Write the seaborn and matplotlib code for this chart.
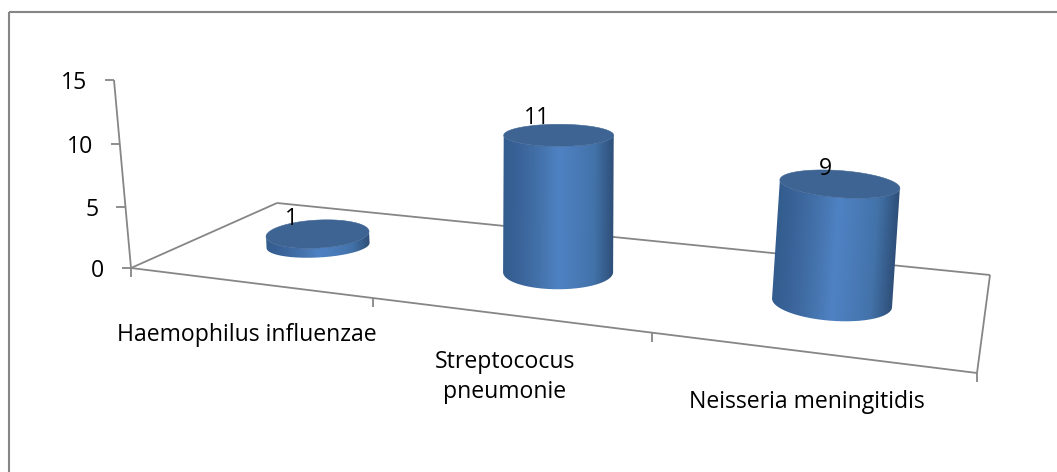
import numpy as np
import pandas as pd
import matplotlib
matplotlib.use("Agg")
import matplotlib.pyplot as plt
from matplotlib.path import Path
from matplotlib.patches import Polygon, PathPatch
import seaborn as sns

categories = ["Haemophilus influenzae", "Streptococus\npneumonie", "Neisseria meningitidis"]
values = [1, 11, 9]
y_ticks = [0, 5, 10, 15]

W, H_PX = 1057, 472
LINE = "#868686"
CAP = "#3e6493"
FONT_SIZE = 16.6
FLOOR = {"FL": (131, 268), "FR": (977, 373), "BR": (990, 275), "BL": (277, 203)}
AXIS_TOP = (114, 80)
VANISH = (537, 4756)
BAR_V = 0.49
ELLIPSE_A = [51.5, 55, 60]
ELLIPSE_TOP_B = [14, 11, 13.5]
ELLIPSE_BOT_B = [12, 17, 18]
ELLIPSE_TILT = [-0.05, 0, 0.07]
TEXT_DY = 3
LABEL_OFFSET = [(-26, -18), (-22, -20), (-14, -18)]
CAT_LABEL_XY = [(246.5, 335), (505, 377), (807, 402)]

sns.set_theme(style="white")
plt.rcParams["font.family"] = ["Open Sans", "DejaVu Sans"]

fig = plt.figure(figsize=(W / 100, H_PX / 100), dpi=100, facecolor="white")

# Hidden seaborn chart: its category and value scales feed the 3D projection.
scale_ax = fig.add_axes([0, 0, 1, 1])
df = pd.DataFrame({"category": categories, "value": values})
sns.barplot(data=df, x="category", y="value", ax=scale_ax)
scale_ax.set_xlim(-0.5, len(categories) - 0.5)
scale_ax.set_ylim(y_ticks[0], y_ticks[-1])
scale_ax.set_visible(False)
to_unit = scale_ax.transLimits

ax = fig.add_axes([0, 0, 1, 1])
ax.set_xlim(0, W)
ax.set_ylim(H_PX, 0)
ax.axis("off")


def homography(unit_pts, px_pts):
    A, b = [], []
    for (u, v), (x, y) in zip(unit_pts, px_pts):
        A.append([u, v, 1, 0, 0, 0, -u * x, -v * x])
        A.append([0, 0, 0, u, v, 1, -u * y, -v * y])
        b += [x, y]
    return np.append(np.linalg.solve(np.array(A, float), np.array(b, float)), 1).reshape(3, 3)


H = homography([(0, 0), (1, 0), (1, 1), (0, 1)],
               [FLOOR["FL"], FLOOR["FR"], FLOOR["BR"], FLOOR["BL"]])
s = (AXIS_TOP[1] - FLOOR["FL"][1]) / (VANISH[1] - AXIS_TOP[1])
P = np.column_stack([H[:, 0], H[:, 1], s * np.array([VANISH[0], VANISH[1], 1.0]), H[:, 2]])


def project(u, v, z):
    q = P @ np.array([u, v, z, 1.0])
    return q[:2] / q[2]


def seg(p, q, lw=1.3, z=1):
    ax.plot([p[0], q[0]], [p[1], q[1]], color=LINE, lw=lw, solid_capstyle="butt", zorder=z)


# outer frame: only the top and left edges fall inside the picture
seg((9, 12), (W, 12), lw=1.5, z=0)
seg((9, 12), (9, H_PX), lw=1.5, z=0)

# floor outline and value axis
corners = [project(*c) for c in [(0, 0, 0), (1, 0, 0), (1, 1, 0), (0, 1, 0), (0, 0, 0)]]
for a, b in zip(corners[:-1], corners[1:]):
    seg(a, b)
seg(project(0, 0, 0), project(0, 0, 1))

for t in y_ticks:
    z = to_unit.transform((0, t))[1]
    p = project(0, 0, z)
    seg(p, (p[0] - 9, p[1]))
    ax.text(p[0] - 27, p[1] + TEXT_DY, str(t), ha="right", va="center", fontsize=FONT_SIZE, color="black")

for k in range(len(categories) + 1):
    p = project(k / len(categories), 0, 0)
    seg(p, (p[0], p[1] + 9))

for label, (x, y) in zip(categories, CAT_LABEL_XY):
    ax.text(x, y, label, ha="center", va="center", fontsize=FONT_SIZE, color="black",
            linespacing=1.35)

# cylinders, one per seaborn bar
cmap = sns.blend_palette(["#335d8e", "#3b659b", "#4472ab", "#4f82c3", "#4a7bb8", "#4272a8", "#2f507a"],
                         as_cmap=True)
theta = np.linspace(0, np.pi, 121)
full = np.linspace(0, 2 * np.pi, 181)


def ellipse(c, a, b, tilt, th):
    return np.column_stack([c[0] + a * np.cos(th), c[1] + a * tilt * np.cos(th) + b * np.sin(th)])


for i, bar in enumerate(scale_ax.patches):
    cx = bar.get_x() + bar.get_width() / 2
    u0, z_top = to_unit.transform((cx, bar.get_height()))
    base = project(u0, BAR_V, 0.0)
    head = project(u0, BAR_V, z_top)
    a, tilt = ELLIPSE_A[i], ELLIPSE_TILT[i]
    low = ellipse(base, a, ELLIPSE_BOT_B[i], tilt, theta)
    high = ellipse(head, a, ELLIPSE_TOP_B[i], tilt, theta)

    # body silhouette, filled with a left-to-right shade that follows the lean
    outline = np.vstack([low, high[::-1], low[:1]])
    x0, x1 = np.floor(outline[:, 0].min()) - 1, np.ceil(outline[:, 0].max()) + 1
    y0, y1 = np.floor(outline[:, 1].min()) - 1, np.ceil(outline[:, 1].max()) + 1
    X, Y = np.meshgrid(np.linspace(x0, x1, int(x1 - x0) * 2), np.linspace(y0, y1, int(y1 - y0) * 2))
    lean = (Y - base[1]) / (head[1] - base[1]) if head[1] != base[1] else 0 * Y
    centre = base[0] + (head[0] - base[0]) * lean
    shade = np.clip(0.5 + (X - centre) / (2 * a), 0, 1)
    im = ax.imshow(shade, cmap=cmap, vmin=0, vmax=1, extent=(x0, x1, y1, y0), aspect="auto",
                   interpolation="bilinear", zorder=3)
    clip = PathPatch(Path(outline), transform=ax.transData, fc="none", ec="none")
    ax.add_patch(clip)
    im.set_clip_path(clip)
    ax.add_patch(Polygon(ellipse(head, a, ELLIPSE_TOP_B[i], tilt, full), closed=True,
                         fc=CAP, ec=CAP, lw=0.4, zorder=4))
    ax.text(head[0] + LABEL_OFFSET[i][0], head[1] + LABEL_OFFSET[i][1] + TEXT_DY, str(values[i]),
            ha="center", va="center", fontsize=FONT_SIZE, color="black", zorder=5)

ax.set_xlim(0, W)
ax.set_ylim(H_PX, 0)
fig.savefig("out.png", dpi=100, facecolor="white")
